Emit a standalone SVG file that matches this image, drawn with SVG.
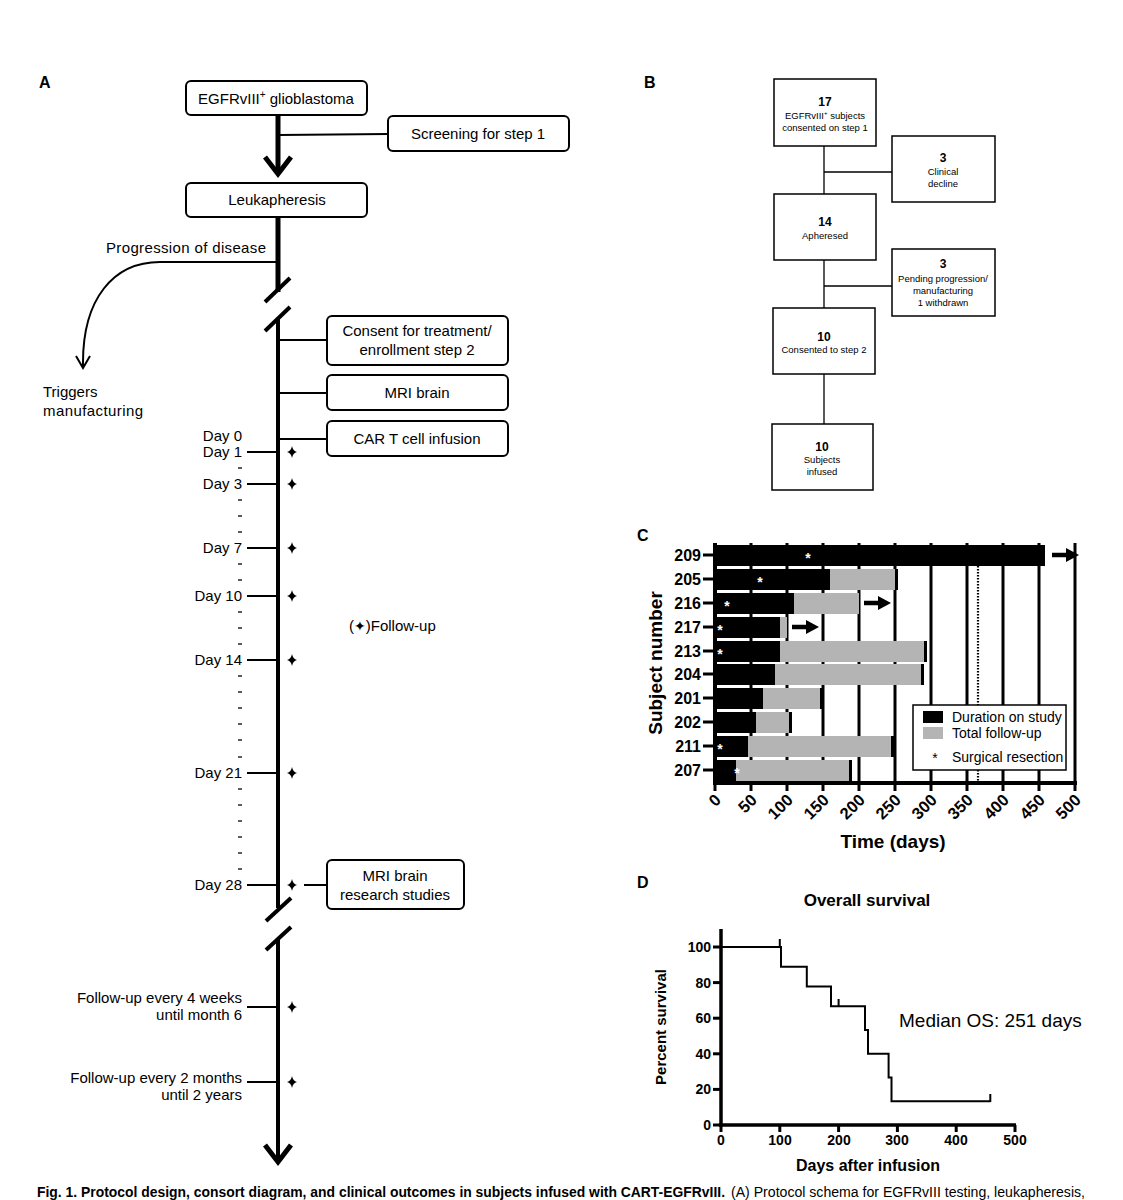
<svg xmlns="http://www.w3.org/2000/svg" width="1123" height="1200" viewBox="0 0 1123 1200">
<defs>
<style>
text{font-family:"Liberation Sans",Arial,sans-serif;fill:#000}
.pl{font-size:16px;font-weight:bold}
.t15{font-size:15px}
.mid{text-anchor:middle}
.end{text-anchor:end}
.box{fill:#fff;stroke:#000;stroke-width:2}
.bbox{fill:#fff;stroke:#000;stroke-width:1.5}
.ln{stroke:#000;fill:none}
.b9{font-size:9.5px}
.n12{font-size:12px;font-weight:bold}
.bold{font-weight:bold}
.grid{stroke:#000;stroke-width:3}
.blk{fill:#000}
.gry{fill:#b4b4b4}
.ast{fill:#fff;font-size:14px;font-weight:bold;text-anchor:middle}
</style>
<path id="star" d="M0,-6 Q0.9,-0.9 5,0 Q0.9,0.9 0,6 Q-0.9,0.9 -5,0 Q-0.9,-0.9 0,-6Z" fill="#000"/>
<path id="rarr" d="M0,-2.2 H14 V-7 L27,0 L14,7 V2.2 H0Z" fill="#000"/>
</defs>
<rect width="1123" height="1200" fill="#fff"/>

<!-- ================= PANEL A ================= -->
<text x="39" y="88" class="pl">A</text>

<g id="connectorsA">
  <line x1="278" y1="115" x2="278" y2="172" class="ln" stroke-width="5"/>
  <polyline points="265,157 278,174 291,157" class="ln" stroke-width="5"/>
  <line x1="279" y1="135" x2="388" y2="134" class="ln" stroke-width="2"/>
  <line x1="278" y1="217" x2="278" y2="292" class="ln" stroke-width="5"/>
  <line x1="265" y1="302" x2="290" y2="278" class="ln" stroke-width="4"/>
  <line x1="265" y1="331" x2="290" y2="307" class="ln" stroke-width="4"/>
  <line x1="278" y1="318" x2="278" y2="908" class="ln" stroke-width="4"/>
  <path d="M278,262 H160 C114,262 82,298 83,366" class="ln" stroke-width="2"/>
  <polyline points="76,356 83,368 90,356" class="ln" stroke-width="2"/>
  <line x1="278" y1="340" x2="327" y2="340" class="ln" stroke-width="2"/>
  <line x1="278" y1="393" x2="327" y2="393" class="ln" stroke-width="2"/>
  <line x1="278" y1="439" x2="327" y2="439" class="ln" stroke-width="2"/>
  <line x1="304" y1="885" x2="327" y2="885" class="ln" stroke-width="2"/>
  <g class="ln" stroke-width="2">
    <line x1="247" y1="452" x2="278" y2="452"/>
    <line x1="247" y1="484" x2="278" y2="484"/>
    <line x1="247" y1="548" x2="278" y2="548"/>
    <line x1="247" y1="596" x2="278" y2="596"/>
    <line x1="247" y1="660" x2="278" y2="660"/>
    <line x1="247" y1="773" x2="278" y2="773"/>
    <line x1="247" y1="885" x2="278" y2="885"/>
    <line x1="247" y1="1007" x2="278" y2="1007"/>
    <line x1="247" y1="1082" x2="278" y2="1082"/>
  </g>
  <g class="ln" stroke-width="1.3">
    <line x1="238" y1="468" x2="242" y2="468"/>
    <line x1="238" y1="500" x2="242" y2="500"/>
    <line x1="238" y1="516" x2="242" y2="516"/>
    <line x1="238" y1="532" x2="242" y2="532"/>
    <line x1="238" y1="564" x2="242" y2="564"/>
    <line x1="238" y1="580" x2="242" y2="580"/>
    <line x1="238" y1="612" x2="242" y2="612"/>
    <line x1="238" y1="628" x2="242" y2="628"/>
    <line x1="238" y1="644" x2="242" y2="644"/>
    <line x1="238" y1="676" x2="242" y2="676"/>
    <line x1="238" y1="692" x2="242" y2="692"/>
    <line x1="238" y1="708" x2="242" y2="708"/>
    <line x1="238" y1="724" x2="242" y2="724"/>
    <line x1="238" y1="740" x2="242" y2="740"/>
    <line x1="238" y1="757" x2="242" y2="757"/>
    <line x1="238" y1="789" x2="242" y2="789"/>
    <line x1="238" y1="805" x2="242" y2="805"/>
    <line x1="238" y1="821" x2="242" y2="821"/>
    <line x1="238" y1="837" x2="242" y2="837"/>
    <line x1="238" y1="853" x2="242" y2="853"/>
    <line x1="238" y1="869" x2="242" y2="869"/>
  </g>
  <line x1="266" y1="921" x2="291" y2="898" class="ln" stroke-width="4"/>
  <line x1="266" y1="950" x2="291" y2="927" class="ln" stroke-width="4"/>
  <line x1="278" y1="940" x2="278" y2="1160" class="ln" stroke-width="4"/>
  <polyline points="265,1145 278,1162 291,1145" class="ln" stroke-width="5"/>
  <use href="#star" x="292" y="452"/>
  <use href="#star" x="292" y="484"/>
  <use href="#star" x="292" y="548"/>
  <use href="#star" x="292" y="596"/>
  <use href="#star" x="292" y="660"/>
  <use href="#star" x="292" y="773"/>
  <use href="#star" x="292" y="885"/>
  <use href="#star" x="292" y="1007"/>
  <use href="#star" x="292" y="1082"/>
</g>

<g id="node-egfr"><rect x="186" y="81" width="181" height="34" rx="5" class="box"/>
<text x="276" y="104" class="t15 mid">EGFRvIII<tspan dy="-6" font-size="10">+</tspan><tspan dy="6"> glioblastoma</tspan></text></g>
<g id="node-screening"><rect x="388" y="116" width="181" height="35" rx="5" class="box"/>
<text x="478" y="139" class="t15 mid">Screening for step 1</text></g>
<g id="node-leuk"><rect x="186" y="183" width="181" height="34" rx="5" class="box"/>
<text x="277" y="205" class="t15 mid">Leukapheresis</text></g>
<g id="label-progression"><text x="266" y="253" class="t15 end" textLength="160">Progression of disease</text></g>
<g id="label-triggers"><text x="43" y="397" class="t15">Triggers</text><text x="43" y="416" class="t15" textLength="100">manufacturing</text></g>
<g id="node-consent"><rect x="327" y="316" width="181" height="49" rx="5" class="box"/>
<text x="417" y="336" class="t15 mid">Consent for treatment/</text>
<text x="417" y="355" class="t15 mid">enrollment step 2</text></g>
<g id="node-mri"><rect x="327" y="375" width="181" height="35" rx="5" class="box"/>
<text x="417" y="398" class="t15 mid">MRI brain</text></g>
<g id="node-cart"><rect x="327" y="421" width="181" height="35" rx="5" class="box"/>
<text x="417" y="444" class="t15 mid">CAR T cell infusion</text></g>
<g id="node-mri2"><rect x="327" y="860" width="137" height="49" rx="5" class="box"/>
<text x="395" y="881" class="t15 mid">MRI brain</text>
<text x="395" y="900" class="t15 mid">research  studies</text></g>

<g id="day-labels" class="t15">
<text x="242" y="441" class="t15 end">Day 0</text>
<text x="242" y="457" class="t15 end">Day 1</text>
<text x="242" y="489" class="t15 end">Day 3</text>
<text x="242" y="553" class="t15 end">Day 7</text>
<text x="242" y="601" class="t15 end">Day 10</text>
<text x="242" y="665" class="t15 end">Day 14</text>
<text x="242" y="778" class="t15 end">Day 21</text>
<text x="242" y="890" class="t15 end">Day 28</text>
<text x="242" y="1003" class="t15 end">Follow-up every 4 weeks</text>
<text x="242" y="1020" class="t15 end">until month 6</text>
<text x="242" y="1083" class="t15 end">Follow-up every 2 months</text>
<text x="242" y="1100" class="t15 end">until 2 years</text>
</g>
<g id="legend-followup"><text x="349" y="631" class="t15">(<tspan font-family="DejaVu Sans" font-size="14">✦</tspan>)Follow-up</text></g>

<!-- ================= PANEL B ================= -->
<text x="644" y="88" class="pl">B</text>
<g id="connectorsB" class="ln" stroke-width="1.3">
  <line x1="824" y1="146" x2="824" y2="194"/>
  <line x1="824" y1="172" x2="892" y2="172"/>
  <line x1="824" y1="260" x2="824" y2="308"/>
  <line x1="824" y1="286" x2="892" y2="286"/>
  <line x1="824" y1="374" x2="824" y2="424"/>
</g>
<g id="b-17"><rect x="774" y="79" width="102" height="67" class="bbox"/>
<text x="825" y="106" class="n12 mid">17</text>
<text x="825" y="119" class="b9 mid">EGFRvIII<tspan dy="-4" font-size="6">+</tspan><tspan dy="4"> subjects</tspan></text>
<text x="825" y="131" class="b9 mid">consented on step 1</text></g>
<g id="b-decline"><rect x="892" y="136" width="103" height="66" class="bbox"/>
<text x="943" y="162" class="n12 mid">3</text>
<text x="943" y="175" class="b9 mid">Clinical</text>
<text x="943" y="187" class="b9 mid">decline</text></g>
<g id="b-14"><rect x="774" y="194" width="102" height="66" class="bbox"/>
<text x="825" y="226" class="n12 mid">14</text>
<text x="825" y="239" class="b9 mid">Apheresed</text></g>
<g id="b-pending"><rect x="892" y="249" width="103" height="67" class="bbox"/>
<text x="943" y="268" class="n12 mid">3</text>
<text x="943" y="282" class="b9 mid">Pending progression/</text>
<text x="943" y="294" class="b9 mid">manufacturing</text>
<text x="943" y="306" class="b9 mid">1 withdrawn</text></g>
<g id="b-10a"><rect x="773" y="308" width="102" height="66" class="bbox"/>
<text x="824" y="341" class="n12 mid">10</text>
<text x="824" y="353" class="b9 mid">Consented to step 2</text></g>
<g id="b-10b"><rect x="772" y="424" width="101" height="66" class="bbox"/>
<text x="822" y="451" class="n12 mid">10</text>
<text x="822" y="463" class="b9 mid">Subjects</text>
<text x="822" y="475" class="b9 mid">infused</text></g>

<!-- ================= PANEL C ================= -->
<text x="637" y="541" class="pl">C</text>
<g id="chartC">
  <g class="grid">
    <line x1="751" y1="543" x2="751" y2="783"/>
    <line x1="787" y1="543" x2="787" y2="783"/>
    <line x1="823" y1="543" x2="823" y2="783"/>
    <line x1="859" y1="543" x2="859" y2="783"/>
    <line x1="895" y1="543" x2="895" y2="783"/>
    <line x1="931" y1="543" x2="931" y2="783"/>
    <line x1="967" y1="543" x2="967" y2="783"/>
    <line x1="1003" y1="543" x2="1003" y2="783"/>
    <line x1="1039" y1="543" x2="1039" y2="783"/>
    <line x1="1075" y1="543" x2="1075" y2="783"/>
  </g>
  <line x1="978" y1="545" x2="978" y2="783" stroke="#000" stroke-width="2.2" stroke-dasharray="1.6,1.4"/>
  <rect x="716" y="545" width="329" height="21" class="blk"/>
  <rect x="716" y="569" width="114" height="21" class="blk"/><rect x="830" y="569" width="66" height="21" class="gry"/><rect x="895" y="569" width="3" height="21" class="blk"/>
  <rect x="716" y="593" width="78" height="21" class="blk"/><rect x="794" y="593" width="65" height="21" class="gry"/>
  <rect x="716" y="617" width="64" height="21" class="blk"/><rect x="780" y="617" width="7" height="21" class="gry"/>
  <rect x="716" y="641" width="64" height="21" class="blk"/><rect x="780" y="641" width="145" height="21" class="gry"/><rect x="924" y="641" width="3" height="21" class="blk"/>
  <rect x="716" y="664" width="59" height="21" class="blk"/><rect x="775" y="664" width="147" height="21" class="gry"/><rect x="921" y="664" width="3" height="21" class="blk"/>
  <rect x="716" y="688" width="47" height="21" class="blk"/><rect x="763" y="688" width="58" height="21" class="gry"/><rect x="820" y="688" width="3" height="21" class="blk"/>
  <rect x="716" y="712" width="40" height="21" class="blk"/><rect x="756" y="712" width="34" height="21" class="gry"/><rect x="789" y="712" width="3" height="21" class="blk"/>
  <rect x="716" y="736" width="32" height="21" class="blk"/><rect x="748" y="736" width="144" height="21" class="gry"/><rect x="891" y="736" width="3" height="21" class="blk"/>
  <rect x="716" y="760" width="20" height="21" class="blk"/><rect x="736" y="760" width="114" height="21" class="gry"/><rect x="849" y="760" width="3" height="21" class="blk"/>
  <use href="#rarr" x="1052" y="555"/>
  <use href="#rarr" x="864" y="603"/>
  <use href="#rarr" x="792" y="627"/>
  <text x="808" y="563" class="ast">*</text>
  <text x="760" y="587" class="ast">*</text>
  <text x="727" y="611" class="ast">*</text>
  <text x="720" y="635" class="ast">*</text>
  <text x="720" y="659" class="ast">*</text>
  <text x="720" y="754" class="ast">*</text>
  <text x="737" y="778" class="ast">*</text>
  <line x1="715" y1="543" x2="715" y2="785" stroke="#000" stroke-width="4"/>
  <line x1="713" y1="783" x2="1077" y2="783" stroke="#000" stroke-width="4"/>
  <g stroke="#000" stroke-width="3">
    <line x1="715" y1="783" x2="715" y2="791"/><line x1="751" y1="783" x2="751" y2="791"/><line x1="787" y1="783" x2="787" y2="791"/>
    <line x1="823" y1="783" x2="823" y2="791"/><line x1="859" y1="783" x2="859" y2="791"/><line x1="895" y1="783" x2="895" y2="791"/>
    <line x1="931" y1="783" x2="931" y2="791"/><line x1="967" y1="783" x2="967" y2="791"/><line x1="1003" y1="783" x2="1003" y2="791"/>
    <line x1="1039" y1="783" x2="1039" y2="791"/><line x1="1075" y1="783" x2="1075" y2="791"/>
    <line x1="703" y1="555" x2="715" y2="555"/><line x1="703" y1="579" x2="715" y2="579"/><line x1="703" y1="603" x2="715" y2="603"/>
    <line x1="703" y1="627" x2="715" y2="627"/><line x1="703" y1="651" x2="715" y2="651"/><line x1="703" y1="674" x2="715" y2="674"/>
    <line x1="703" y1="698" x2="715" y2="698"/><line x1="703" y1="722" x2="715" y2="722"/><line x1="703" y1="746" x2="715" y2="746"/>
    <line x1="703" y1="770" x2="715" y2="770"/>
  </g>
  <g font-size="16">
    <text x="701" y="561" class="bold end">209</text>
    <text x="701" y="585" class="bold end">205</text>
    <text x="701" y="609" class="bold end">216</text>
    <text x="701" y="633" class="bold end">217</text>
    <text x="701" y="657" class="bold end">213</text>
    <text x="701" y="680" class="bold end">204</text>
    <text x="701" y="704" class="bold end">201</text>
    <text x="701" y="728" class="bold end">202</text>
    <text x="701" y="752" class="bold end">211</text>
    <text x="701" y="776" class="bold end">207</text>
  </g>
  <g font-size="16.5">
    <text transform="translate(718,797) rotate(-45)" dy="0.35em" class="bold end">0</text>
    <text transform="translate(754,797) rotate(-45)" dy="0.35em" class="bold end">50</text>
    <text transform="translate(790,797) rotate(-45)" dy="0.35em" class="bold end">100</text>
    <text transform="translate(826,797) rotate(-45)" dy="0.35em" class="bold end">150</text>
    <text transform="translate(862,797) rotate(-45)" dy="0.35em" class="bold end">200</text>
    <text transform="translate(898,797) rotate(-45)" dy="0.35em" class="bold end">250</text>
    <text transform="translate(934,797) rotate(-45)" dy="0.35em" class="bold end">300</text>
    <text transform="translate(970,797) rotate(-45)" dy="0.35em" class="bold end">350</text>
    <text transform="translate(1006,797) rotate(-45)" dy="0.35em" class="bold end">400</text>
    <text transform="translate(1042,797) rotate(-45)" dy="0.35em" class="bold end">450</text>
    <text transform="translate(1078,797) rotate(-45)" dy="0.35em" class="bold end">500</text>
  </g>
  <text x="893" y="848" font-size="19" class="bold mid">Time (days)</text>
  <text transform="translate(662,663) rotate(-90)" font-size="19" class="bold mid">Subject number</text>
  <g id="legendC">
    <rect x="913" y="705" width="153" height="65" fill="#fff" stroke="#000" stroke-width="1.5"/>
    <rect x="923" y="711" width="20" height="12" class="blk"/>
    <rect x="923" y="727" width="20" height="12" class="gry"/>
    <text x="952" y="722" font-size="14">Duration on study</text>
    <text x="952" y="738" font-size="14">Total follow-up</text>
    <text x="935" y="763" font-size="14" class="mid">*</text>
    <text x="952" y="762" font-size="14">Surgical resection</text>
  </g>
</g>

<!-- ================= PANEL D ================= -->
<text x="637" y="888" class="pl">D</text>
<g id="chartD">
  <text x="867" y="906" font-size="17" class="bold mid">Overall survival</text>
  <line x1="721" y1="929" x2="721" y2="1127" stroke="#000" stroke-width="3.5"/>
  <line x1="719" y1="1125" x2="1016" y2="1125" stroke="#000" stroke-width="3.5"/>
  <g stroke="#000" stroke-width="3">
    <line x1="713" y1="1125" x2="721" y2="1125"/><line x1="713" y1="1089.4" x2="721" y2="1089.4"/>
    <line x1="713" y1="1053.8" x2="721" y2="1053.8"/><line x1="713" y1="1018.2" x2="721" y2="1018.2"/>
    <line x1="713" y1="982.6" x2="721" y2="982.6"/><line x1="713" y1="947" x2="721" y2="947"/>
    <line x1="721" y1="1125" x2="721" y2="1132"/><line x1="779.8" y1="1125" x2="779.8" y2="1132"/>
    <line x1="838.6" y1="1125" x2="838.6" y2="1132"/><line x1="897.4" y1="1125" x2="897.4" y2="1132"/>
    <line x1="956.2" y1="1125" x2="956.2" y2="1132"/><line x1="1015" y1="1125" x2="1015" y2="1132"/>
  </g>
  <g font-size="14">
    <text x="711" y="952" class="bold end">100</text>
    <text x="711" y="988" class="bold end">80</text>
    <text x="711" y="1023" class="bold end">60</text>
    <text x="711" y="1059" class="bold end">40</text>
    <text x="711" y="1094" class="bold end">20</text>
    <text x="711" y="1130" class="bold end">0</text>
    <text x="721" y="1145" class="bold mid">0</text>
    <text x="780" y="1145" class="bold mid">100</text>
    <text x="839" y="1145" class="bold mid">200</text>
    <text x="897" y="1145" class="bold mid">300</text>
    <text x="956" y="1145" class="bold mid">400</text>
    <text x="1015" y="1145" class="bold mid">500</text>
  </g>
  <path d="M721,947 H781 V966.8 H806.8 V986.5 H831 V1006.3 H865 V1030.1 H868 V1053.8 H888.6 V1077.5 H891.5 V1101.3 H990.3" class="ln" stroke-width="2"/>
  <g class="ln" stroke-width="2">
    <line x1="779.8" y1="939" x2="779.8" y2="947"/>
    <line x1="838.6" y1="999" x2="838.6" y2="1006.3"/>
    <line x1="990.3" y1="1094" x2="990.3" y2="1102"/>
  </g>
  <text x="899" y="1027" font-size="19">Median OS: 251 days</text>
  <text x="868" y="1171" font-size="16" class="bold mid">Days after infusion</text>
  <text transform="translate(666,1027) rotate(-90)" font-size="15" class="bold mid">Percent survival</text>
</g>

<text x="37" y="1197" font-size="14" font-weight="bold" textLength="688" lengthAdjust="spacingAndGlyphs">Fig. 1.  Protocol design, consort diagram, and clinical outcomes in subjects infused with CART-EGFRvIII.</text>
<text x="731" y="1197" font-size="14" textLength="354" lengthAdjust="spacingAndGlyphs">(A) Protocol schema for EGFRvIII testing, leukapheresis,</text>
</svg>
